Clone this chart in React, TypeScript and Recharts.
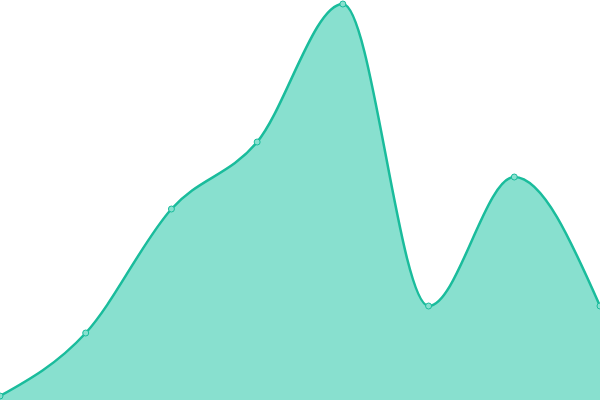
import React from "react";
import { AreaChart, Area, XAxis, YAxis } from "recharts";

const categories = ["A", "B", "C", "D", "E", "F", "G", "H"];
const values = [4, 67, 191, 258, 396, 94, 223, 94];

const data = categories.map((c, i) => ({ name: c, value: values[i] }));

export default function App() {
  return (
    <div style={{ position: "absolute", top: 0, left: 0, width: 600, height: 400, background: "#fff" }}>
      <AreaChart width={600} height={400} data={data} margin={{ top: 0, right: 0, bottom: 0, left: 0 }}>
        <XAxis dataKey="name" hide padding={{ left: 0, right: 0 }} />
        <YAxis hide domain={[0, 400]} />
        <Area
          type="monotone"
          dataKey="value"
          stroke="#1abc9c"
          strokeWidth={2.5}
          fill="#88e0cf"
          fillOpacity={1}
          dot={{ r: 3, fill: "#88e0cf", stroke: "#1abc9c", strokeWidth: 1, fillOpacity: 1 }}
          activeDot={false}
          isAnimationActive={false}
        />
      </AreaChart>
    </div>
  );
}
